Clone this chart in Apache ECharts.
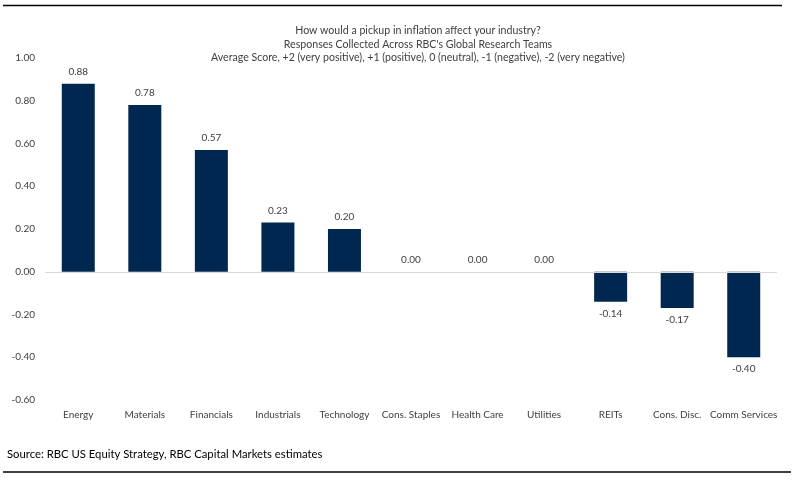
<!DOCTYPE html>
<html>
<head>
<meta charset="utf-8">
<script src="https://cdn.jsdelivr.net/npm/echarts@6/dist/echarts.min.js"></script>
<style>html,body{margin:0;padding:0;background:#fff}#c{width:801px;height:480px}</style>
</head>
<body>
<div id="c"></div>
<script>
const categories = ["Energy","Materials","Financials","Industrials","Technology","Cons. Staples","Health Care","Utilities","REITs","Cons. Disc.","Comm Services"];
const scores = [0.88,0.78,0.57,0.23,0.20,0.00,0.00,0.00,-0.14,-0.17,-0.40];
const titleLines = [
  "How would a pickup in inflation affect your industry?",
  "Responses Collected Across RBC's Global Research Teams",
  "Average Score, +2 (very positive), +1 (positive), 0 (neutral), -1 (negative), -2 (very negative)"
];
const sourceText = "Source: RBC US Equity Strategy, RBC Capital Markets estimates";

const FONT = "Lato";
const chart = echarts.init(document.getElementById('c'), null, {renderer:'canvas'});
chart.setOption({
  backgroundColor:'#fff',
  animation:false,
  title:{
    text: titleLines.join('\n'),
    left: 413, top: 19, textAlign:'center',
    textStyle:{fontFamily:FONT,fontSize:10.6,fontWeight:'normal',color:'#404040',lineHeight:13.5}
  },
  grid:{left:45,right:24,top:58,bottom:80},
  xAxis:{
    type:'category', data:categories,
    axisLine:{show:false}, axisTick:{show:false},
    axisLabel:{fontFamily:FONT,fontSize:10,color:'#404040',margin:10,interval:0}
  },
  yAxis:{
    type:'value', min:-0.6, max:1.0, interval:0.2,
    splitLine:{show:false}, axisLine:{show:false}, axisTick:{show:false},
    axisLabel:{fontFamily:FONT,fontSize:10,color:'#404040',margin:10,formatter:v=>v.toFixed(2)}
  },
  series:[{
    type:'bar',
    data:scores.map(v=>({value:v,label:{position:v<0?'bottom':'top'}})),
    barWidth:33,
    itemStyle:{color:'#002750'},
    label:{
      show:true,
      position:'top',
      distance:7,
      fontFamily:FONT,fontSize:10,color:'#404040',
      formatter:p=>p.value.toFixed(2)
    },
    markLine:{
      silent:true, symbol:'none', label:{show:false},
      lineStyle:{color:'#d9d9d9',type:'solid',width:1},
      data:[{yAxis:0}]
    }
  }],
  graphic:[
    {type:'line',shape:{x1:3,y1:5.5,x2:782,y2:5.5},style:{stroke:'#000',lineWidth:1.5}},
    {type:'line',shape:{x1:3,y1:472,x2:791,y2:472},style:{stroke:'#000',lineWidth:1.5}},
    {type:'text',left:7,top:449,style:{text:sourceText,fontFamily:FONT,fontSize:11.3,fill:'#000'}}
  ]
});
</script>
</body>
</html>
